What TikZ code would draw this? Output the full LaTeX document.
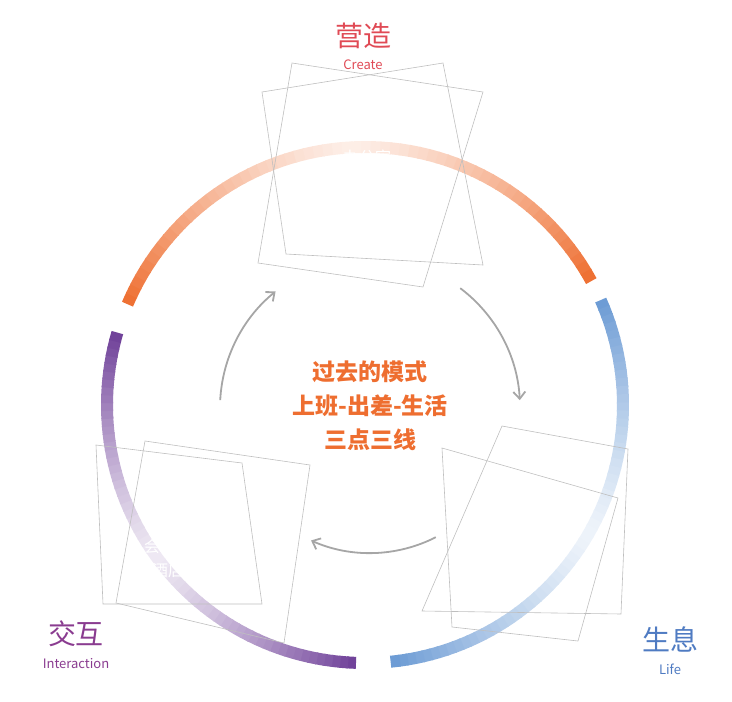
\documentclass[tikz,border=0pt]{standalone}
\usepackage{fontspec}
\setmainfont{Noto Sans CJK SC}
\usetikzlibrary{fadings,arrows.meta}
\definecolor{cor}{HTML}{EE6E30}
\definecolor{cbl}{HTML}{6A9AD4}
\definecolor{cpu}{HTML}{6E3F98}
\definecolor{cred}{HTML}{E04A55}
\definecolor{lpu}{HTML}{8A3C90}
\definecolor{lbl}{HTML}{4F7BC2}
\pgfdeclareradialshading{blobshade}{\pgfpoint{0bp}{0bp}}{color(0bp)=(pgftransparent!0); color(40bp)=(pgftransparent!5); color(72bp)=(pgftransparent!45); color(104bp)=(pgftransparent!100); color(120bp)=(pgftransparent!100)}
\pgfdeclarefading{blob}{\pgfuseshading{blobshade}}
\tikzset{
  sq/.style={draw=black!25, line width=0.6pt},
  inarr/.style={draw=black!35, line width=1.8pt, -{Straight Barb[length=7pt,width=12pt]}},
  blobtxt/.style={text=white, font=\fontsize{16}{24}\selectfont, align=center},
  bigl/.style={font=\fontsize{28}{30}\selectfont},
  smalll/.style={font=\fontsize{13}{15}\selectfont},
}
\newcommand{\gradarc}[4]{% color, start, end, steps
  \foreach \i in {1,...,#4}{
    \pgfmathsetmacro{\aa}{#2+(#3-#2)*(\i-1)/#4}
    \pgfmathsetmacro{\bb}{#2+(#3-#2)*\i/#4+0.3}
    \pgfmathsetmacro{\tt}{abs(2*(\i-0.5)/#4-1)}
    \pgfmathsetmacro{\mm}{int(12+88*\tt^1.3)}
    \draw[line width=12pt, #1!\mm!white] (C) ++(\aa:258) arc[start angle=\aa, end angle=\bb, radius=258];
  }}
\begin{document}
\begin{tikzpicture}[x=1pt,y=-1pt]
\useasboundingbox (0,0) rectangle (732,702);
\coordinate (C) at (365,405);
\gradarc{cor}{203}{331}{60}
\gradarc{cbl}{336}{444}{60}
\gradarc{cpu}{92}{196}{60}
% blobs
\fill[cor, path fading=blob, fit fading=false] (365,185) circle (112);
\fill[cbl, path fading=blob, fit fading=false] (525,535) circle (112);
\fill[cpu, path fading=blob, fit fading=false] (168,538) circle (112);
% squares
\draw[sq] (292,63) -- (483,92) -- (423,287) -- (258,263) -- cycle;
\draw[sq] (262,92) -- (443,63) -- (483,265) -- (286,254) -- cycle;
\draw[sq] (96,445) -- (242,463) -- (262,604) -- (103,604) -- cycle;
\draw[sq] (145,441) -- (310,465) -- (284,643) -- (116,603) -- cycle;
\draw[sq] (502,426) -- (628,449) -- (621,614) -- (422,611) -- cycle;
\draw[sq] (442,448) -- (618,498) -- (578,641) -- (452,627) -- cycle;
% blob texts
\node[blobtxt] (t1) at (367,181) {办公室\\实验室\\工地};
\node[blobtxt] (t2) at (530,546) {家/宿舍\\公园\\商城};
\node[blobtxt] (t3) at (168,546) {展会\\会议室\\酒店};
% center
\node[text=cor, font=\fontsize{23}{34}\selectfont\bfseries, align=center] (mid) at (370,406) {过去的模式\\上班-出差-生活\\三点三线};
% labels
\node[bigl, text=cred] (l1) at (363,36) {营造};
\node[smalll, text=cred] (l1e) at (363,65) {Create};
\node[bigl, text=lpu] (l2) at (76,634) {交互};
\node[smalll, text=lpu] (l2e) at (76,664) {Interaction};
\node[bigl, text=lbl] (l3) at (670,639) {生息};
\node[smalll, text=lbl] (l3e) at (670,669) {Life};
% inner arrows
\coordinate (IC) at (370,408);
\draw[inarr] (IC) ++(183:150) arc[start angle=183, end angle=231, radius=150];
\draw[inarr] (IC) ++(307:150) arc[start angle=307, end angle=357, radius=150];
\draw[inarr] (IC) ++(63:145) arc[start angle=63, end angle=114, radius=145];
\end{tikzpicture}
\end{document}
